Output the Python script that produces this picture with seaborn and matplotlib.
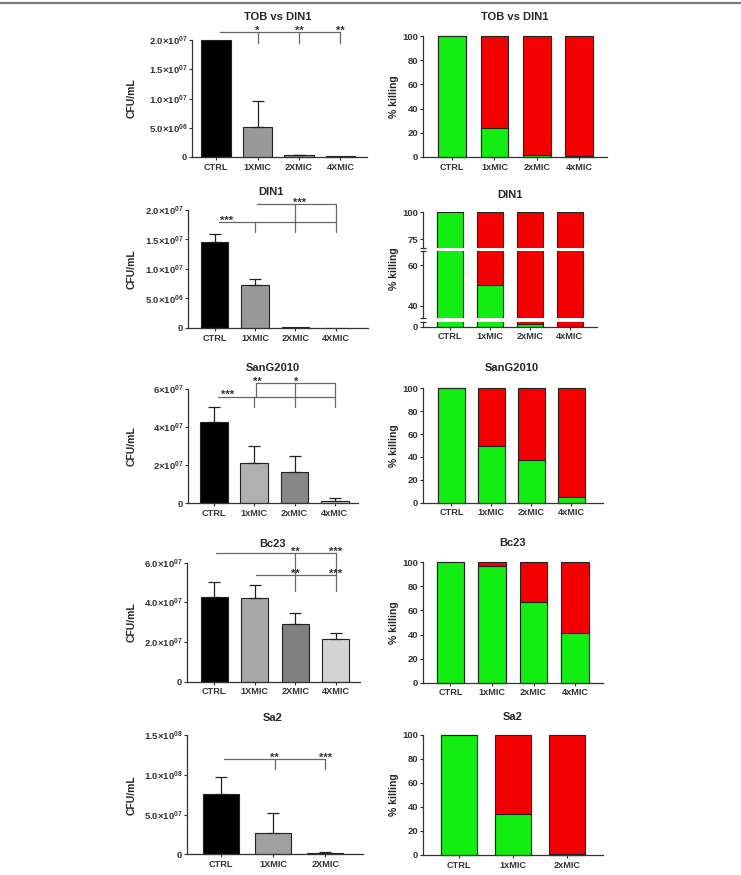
import numpy as np
import matplotlib
matplotlib.use("Agg")
import matplotlib.pyplot as plt
import seaborn as sns
from matplotlib.lines import Line2D

# ---- data ----
cats_up4 = ["CTRL", "1XMIC", "2XMIC", "4XMIC"]
cats_lo4 = ["CTRL", "1xMIC", "2xMIC", "4xMIC"]
cats_up3 = ["CTRL", "1XMIC", "2XMIC"]
cats_lo3 = ["CTRL", "1xMIC", "2xMIC"]

tob_cfu = [2.0e7, 5.2e6, 3.0e5, 1.0e5]
tob_err = [0, 4.4e6, 1.0e5, 0]
tob_kill = [100, 24, 2, 0.5]

din_cfu = [1.45e7, 7.25e6, 1.0e5, 0]
din_err = [1.4e6, 1.05e6, 0, 0]
din_kill = [100, 50, 2.7, 0]

sang_cfu = [4.25e7, 2.1e7, 1.63e7, 1.4e6]
sang_err = [7.9e6, 9.2e6, 8.5e6, 1.2e6]
sang_kill = [100, 50, 37.3, 5.2]

bc_cfu = [4.29e7, 4.24e7, 2.91e7, 2.15e7]
bc_err = [7.5e6, 6.3e6, 5.7e6, 3.2e6]
bc_kill = [100, 97.2, 67.3, 41.5]

sa_cfu = [7.58e7, 2.72e7, 1.5e6]
sa_err = [2.18e7, 2.43e7, 1.0e6]
sa_kill = [100, 33.9, 1.0]

kill_total = 100

# significance brackets: (x_start, x_end, y, drop_xs, drop_to)
tob_lines = [(0.1, 3, 2.14e7, [1, 2, 3], 1.95e7)]
tob_stars = [(1, 2.14e7, "*"), (2, 2.14e7, "**"), (3, 2.14e7, "**")]
din_lines = [(0.1, 3, 1.80e7, [1, 2, 3], 1.63e7), (1.05, 3, 2.10e7, [2, 3], 1.80e7)]
din_stars = [(0.3, 1.80e7, "***"), (2.1, 2.10e7, "***")]
sang_lines = [(0.1, 3, 5.6e7, [1, 2, 3], 5.04e7), (1.05, 3, 6.3e7, [1.05, 2, 3], 5.6e7)]
sang_stars = [(0.33, 5.6e7, "***"), (1.07, 6.3e7, "**"), (2.05, 6.3e7, "*")]
bc_lines = [(0.04, 3, 6.47e7, [2, 3], 4.57e7), (1.03, 3, 5.38e7, [], 0)]
bc_stars = [(2, 6.47e7, "**"), (3, 6.47e7, "***"), (2, 5.38e7, "**"), (3, 5.38e7, "***")]
sa_lines = [(0.06, 2, 1.194e8, [1.03, 2], 1.069e8)]
sa_stars = [(1.03, 1.194e8, "**"), (2, 1.194e8, "***")]


def sci(m, e):
    return r"$\mathbf{" + m + r"}{\times}\mathbf{10}^{\mathbf{" + e + r"}}$"


# ---- style ----
sns.set_style("ticks")
plt.rcParams["font.family"] = ["Liberation Sans", "DejaVu Sans"]
plt.rcParams["font.weight"] = "bold"
plt.rcParams["mathtext.fontset"] = "custom"
plt.rcParams["mathtext.rm"] = "Liberation Sans"
plt.rcParams["mathtext.bf"] = "Liberation Sans:bold"
plt.rcParams["axes.edgecolor"] = "#333333"
plt.rcParams["axes.linewidth"] = 0.9
plt.rcParams["xtick.color"] = "#333333"
plt.rcParams["ytick.color"] = "#333333"
plt.rcParams["xtick.major.size"] = 2.5
plt.rcParams["ytick.major.size"] = 2.5
plt.rcParams["xtick.major.pad"] = 1.5
plt.rcParams["ytick.major.pad"] = 1.0

W, H = 741, 875
GREEN = "#12ee12"
RED = "#f40000"
fig = plt.figure(figsize=(W / 100, H / 100), dpi=100)
fig.add_artist(Line2D([0, 1], [1 - 3 / H] * 2, color="#7a7a7a", lw=1.6))


def box(l, t, r, b):
    return [l / W, 1 - b / H, (r - l) / W, (b - t) / H]


def finish(ax, xlim, ylim, yticks, yticklabels, ylabel, label_x, box_px):
    ax.set_xlim(*xlim)
    ax.set_ylim(*ylim)
    ax.set_yticks(yticks)
    ax.set_yticklabels(yticklabels, fontsize=6.8, fontweight="bold")
    ax.tick_params(axis="x", labelsize=6.6)
    for t in ax.get_xticklabels():
        t.set_fontweight("bold")
    ax.set_xlabel("")
    ax.set_ylabel(ylabel, fontsize=7.5, fontweight="bold")
    l, t, r, b = box_px
    ax.yaxis.set_label_coords((label_x - l) / (r - l), 0.5)
    sns.despine(ax=ax)


def cfu_panel(box_px, title, title_xy, cats, vals, errs, colors, xlim, ylim,
              yticks, yticklabels, width, lines, stars):
    ax = fig.add_axes(box(*box_px))
    sns.barplot(x=cats, y=vals, hue=cats, palette=colors, legend=False,
                width=width, saturation=1, edgecolor="#222222", linewidth=0.8, ax=ax)
    for p in ax.patches:
        p.set_clip_on(False)
    idx = [i for i, e in enumerate(errs) if e > 0]
    ax.errorbar([i for i in idx], [vals[i] for i in idx],
                yerr=[[0] * len(idx), [errs[i] for i in idx]], fmt="none",
                ecolor="#222222", elinewidth=0.9, capsize=4, capthick=0.9,
                clip_on=False, zorder=1)
    for x0, x1, y, drops, y_low in lines:
        ax.plot([x0, x1], [y, y], color="#666666", lw=0.9, clip_on=False)
        for d in drops:
            ax.plot([d, d], [y, y_low], color="#666666", lw=0.9, clip_on=False)
    for x, y, s in stars:
        ax.annotate(s, (x, y), xytext=(0, -1.2), textcoords="offset points",
                    ha="center", va="baseline", fontsize=8, color="#333333",
                    annotation_clip=False)
    finish(ax, xlim, ylim, yticks, yticklabels, "CFU/mL", 137, box_px)
    fig.text(title_xy[0] / W, 1 - title_xy[1] / H, title, ha="center",
             va="center", fontsize=8, fontweight="bold")
    return ax


def kill_panel(box_px, title, title_xy, cats, kill, xlim, width, ylim=(0, 100),
               yticks=(0, 20, 40, 60, 80, 100), show_x=True, clip=False):
    ax = fig.add_axes(box(*box_px))
    sns.barplot(x=cats, y=[kill_total] * len(cats), color=RED, width=width,
                saturation=1, edgecolor="#222222", linewidth=0.8, ax=ax)
    sns.barplot(x=cats, y=kill, color=GREEN, width=width,
                saturation=1, edgecolor="#222222", linewidth=0.8, ax=ax)
    if not clip:
        for p in ax.patches:
            p.set_clip_on(False)
    finish(ax, xlim, ylim, list(yticks), [str(v) for v in yticks], "% killing",
           399, box_px)
    if not show_x:
        ax.spines["bottom"].set_visible(False)
        ax.tick_params(axis="x", bottom=False, labelbottom=False)
    if title:
        fig.text(title_xy[0] / W, 1 - title_xy[1] / H, title, ha="center",
                 va="center", fontsize=8, fontweight="bold")
    return ax


# ---- row 1: TOB vs DIN1 ----
cfu_panel((192, 40, 367, 157), "TOB vs DIN1", (278, 17.5), cats_up4, tob_cfu, tob_err,
          ["#000000", "#999999", "#999999", "#999999"], (-0.58, 3.64), (0, 2.0e7),
          [0, 5e6, 1e7, 1.5e7, 2e7],
          ["0", sci("5.0", "06"), sci("1.0", "07"), sci("1.5", "07"), sci("2.0", "07")],
          0.72, tob_lines, tob_stars)
kill_panel((423, 36, 607, 157), "TOB vs DIN1", (515, 17), cats_lo4, tob_kill,
           (-0.69, 3.66), 0.66)

# ---- row 2: DIN1 ----
cfu_panel((188, 210, 368, 328), "DIN1", (271, 192), cats_up4, din_cfu, din_err,
          ["#000000", "#999999", "#999999", "#999999"], (-0.66, 3.8), (0, 2.0e7),
          [0, 5e6, 1e7, 1.5e7, 2e7],
          ["0", sci("5.0", "06"), sci("1.0", "07"), sci("1.5", "07"), sci("2.0", "07")],
          0.68, din_lines, din_stars)
# broken y axis: three segments
seg_boxes = [(423, 212.3, 597, 247.7), (423, 251, 597, 317.7), (423, 321.7, 597, 326.7)]
seg_ylims = [(67, 100), (34, 67), (0, 5)]
seg_ticks = [(75, 100), (40, 60), (0,)]
for k in range(3):
    ax = kill_panel(seg_boxes[k], "DIN1" if k == 0 else None, (510, 195), cats_lo4,
                    din_kill, (-0.68, 3.68), 0.66, ylim=seg_ylims[k],
                    yticks=seg_ticks[k], show_x=(k == 2), clip=True)
    ax.set_ylabel("")
    ends = [0, 1] if k == 1 else ([0] if k == 0 else [1])
    ax.plot([0] * len(ends), ends, transform=ax.transAxes, ls="none", marker="_",
            ms=4, mew=0.9, color="#333333", clip_on=False)
    if k == 1:
        ax.set_ylabel("% killing", fontsize=7.5, fontweight="bold")
        ax.yaxis.set_label_coords((399 - 423) / (597 - 423), (317.7 - 269) / 66.7)

# ---- row 3: SanG2010 ----
cfu_panel((188, 389, 358, 503.3), "SanG2010", (273, 368), cats_lo4, sang_cfu, sang_err,
          ["#000000", "#b0b0b0", "#888888", "#d8d8d8"], (-0.65, 3.58), (0, 6e7),
          [0, 2e7, 4e7, 6e7],
          ["0", sci("2", "07"), sci("4", "07"), sci("6", "07")],
          0.69, sang_lines, sang_stars)
kill_panel((423, 388.3, 603, 502.7), "SanG2010", (512, 368), cats_lo4, sang_kill,
           (-0.71, 3.79), 0.66)

# ---- row 4: Bc23 ----
cfu_panel((187, 562.7, 360, 681.7), "Bc23", (273, 544), cats_up4, bc_cfu, bc_err,
          ["#000000", "#a8a8a8", "#808080", "#d3d3d3"], (-0.67, 3.6), (0, 6e7),
          [0, 2e7, 4e7, 6e7],
          ["0", sci("2.0", "07"), sci("4.0", "07"), sci("6.0", "07")],
          0.67, bc_lines, bc_stars)
kill_panel((423, 562.3, 603, 682.7), "Bc23", (513, 543), cats_lo4, bc_kill,
           (-0.66, 3.67), 0.66)

# ---- row 5: Sa2 ----
cfu_panel((187, 735, 363, 854.3), "Sa2", (273, 718), cats_up3, sa_cfu, sa_err,
          ["#000000", "#a0a0a0", "#808080"], (-0.65, 2.72), (0, 1.5e8),
          [0, 5e7, 1e8, 1.5e8],
          ["0", sci("5.0", "07"), sci("1.0", "08"), sci("1.5", "08")],
          0.69, sa_lines, sa_stars)
kill_panel((423, 735, 603, 855), "Sa2", (513, 717), cats_lo3, sa_kill,
           (-0.67, 2.67), 0.67)

fig.savefig("out.png", dpi=100)
